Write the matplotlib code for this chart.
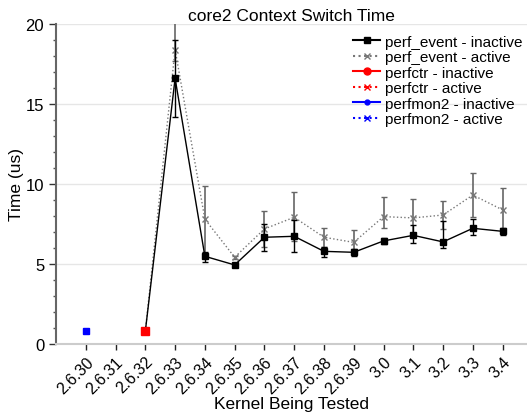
import numpy as np
import matplotlib
matplotlib.use('Agg')
import matplotlib.pyplot as plt
from matplotlib.ticker import MultipleLocator
from matplotlib.lines import Line2D

plt.rcParams['font.family'] = ['Liberation Sans', 'DejaVu Sans']

nan = np.nan
kernels = ['2.6.30', '2.6.31', '2.6.32', '2.6.33', '2.6.34', '2.6.35', '2.6.36',
           '2.6.37', '2.6.38', '2.6.39', '3.0', '3.1', '3.2', '3.3', '3.4']

# perf_event inactive / active (us), with lower/upper error
pe_in = [nan, nan, 0.8, 16.6, 5.48, 4.94, 6.67, 6.73, 5.79, 5.73, 6.44, 6.79, 6.38, 7.23, 7.04]
pe_in_lo = [0, 0, 0.05, 2.4, 0.35, 0.05, 0.85, 1.0, 0.35, 0.2, 0.2, 0.5, 0.4, 0.4, 0.2]
pe_in_hi = [0, 0, 0.05, 2.4, 0.25, 0.05, 0.85, 1.0, 0.3, 0.2, 0.2, 0.65, 1.3, 0.55, 0.2]

pe_act = [nan, nan, 0.8, 18.4, 7.8, 5.42, 7.19, 7.92, 6.67, 6.35, 7.96, 7.88, 8.06, 9.31, 8.38]
pe_act_lo = [0, 0, 0.05, 0.7, 2.1, 0.1, 1.1, 1.5, 0.6, 0.8, 0.7, 1.2, 0.9, 1.35, 1.35]
pe_act_hi = [0, 0, 0.05, 2.0, 2.1, 0.1, 1.1, 1.55, 0.6, 0.8, 1.2, 1.2, 0.85, 1.4, 1.35]

# perfctr
pc_in = [nan, nan, 0.8, nan, nan, nan, nan, nan, nan, nan, nan, nan, nan, nan, nan]
pc_act = [nan, nan, 0.8, nan, nan, nan, nan, nan, nan, nan, nan, nan, nan, nan, nan]

# perfmon2
pm_in = [0.8, nan, nan, nan, nan, nan, nan, nan, nan, nan, nan, nan, nan, nan, nan]
pm_act = [0.8, nan, nan, nan, nan, nan, nan, nan, nan, nan, nan, nan, nan, nan, nan]

x = np.arange(len(kernels))

fig = plt.figure(figsize=(5.27, 4.14), dpi=100)
ax = fig.add_axes([0.1063, 0.1667, 0.8937, 0.773])

ax.yaxis.grid(True, color='#e6e6e6', lw=1)
ax.set_axisbelow(True)

ax.errorbar(x, pe_act, yerr=[pe_act_lo, pe_act_hi], color='#777777', ls=':', lw=1,
            marker='x', ms=4, mew=1, ecolor='#666666', elinewidth=1.2, capsize=2.5, zorder=3)
ax.errorbar(x, pe_in, yerr=[pe_in_lo, pe_in_hi], color='black', ls='-', lw=1,
            marker='s', ms=5, ecolor='black', elinewidth=1, capsize=2.5, zorder=4)
ax.plot(x, pc_in, color='red', ls='none', marker='s', ms=6, zorder=5)
ax.plot(x, pc_act, color='red', ls='none', marker='x', ms=4, zorder=6)
ax.plot(x, pm_in, color='blue', ls='none', marker='s', ms=4.5, zorder=5)
ax.plot(x, pm_act, color='blue', ls='none', marker='x', ms=4, zorder=6)

ax.set_xlim(-1, 14.82)
ax.set_ylim(0, 20)
ax.set_xticks(x)
ax.set_xticklabels(kernels, rotation=45, ha='right', rotation_mode='anchor', fontsize=11.5)
ax.yaxis.set_major_locator(MultipleLocator(5))
ax.yaxis.set_minor_locator(MultipleLocator(1))
ax.tick_params(axis='y', labelsize=12, length=5, width=1, color='#333333')
ax.tick_params(axis='y', which='minor', length=2.5, width=1, color='#555555')
ax.tick_params(axis='x', length=4, width=1, color='#222222', pad=3)

for s in ['top', 'right']:
    ax.spines[s].set_visible(False)
ax.spines['left'].set_color('#666666')
ax.spines['left'].set_linewidth(1.5)
ax.spines['bottom'].set_color('#cccccc')
ax.spines['bottom'].set_linewidth(1.5)

ax.set_title('core2 Context Switch Time', fontsize=12.5, pad=3)
ax.set_ylabel('Time (us)', fontsize=12.5, labelpad=1)
ax.set_xlabel('Kernel Being Tested', fontsize=12.5, labelpad=0)

handles = [
    Line2D([], [], color='black', ls='-', marker='s', ms=5),
    Line2D([], [], color='#777777', ls=':', marker='x', ms=4),
    Line2D([], [], color='red', ls='-', marker='o', ms=5),
    Line2D([], [], color='red', ls=':', marker='x', ms=4),
    Line2D([], [], color='blue', ls='-', marker='o', ms=3.5),
    Line2D([], [], color='blue', ls=':', marker='x', ms=4),
]
labels = ['perf_event - inactive', 'perf_event - active', 'perfctr - inactive',
          'perfctr - active', 'perfmon2 - inactive', 'perfmon2 - active']
ax.legend(handles, labels, loc='upper right', frameon=False, fontsize=11,
          handlelength=1.8, handletextpad=0.3, labelspacing=0.1,
          bbox_to_anchor=(1.01, 0.995), borderaxespad=0.2)

plt.savefig('out.png', dpi=100)
